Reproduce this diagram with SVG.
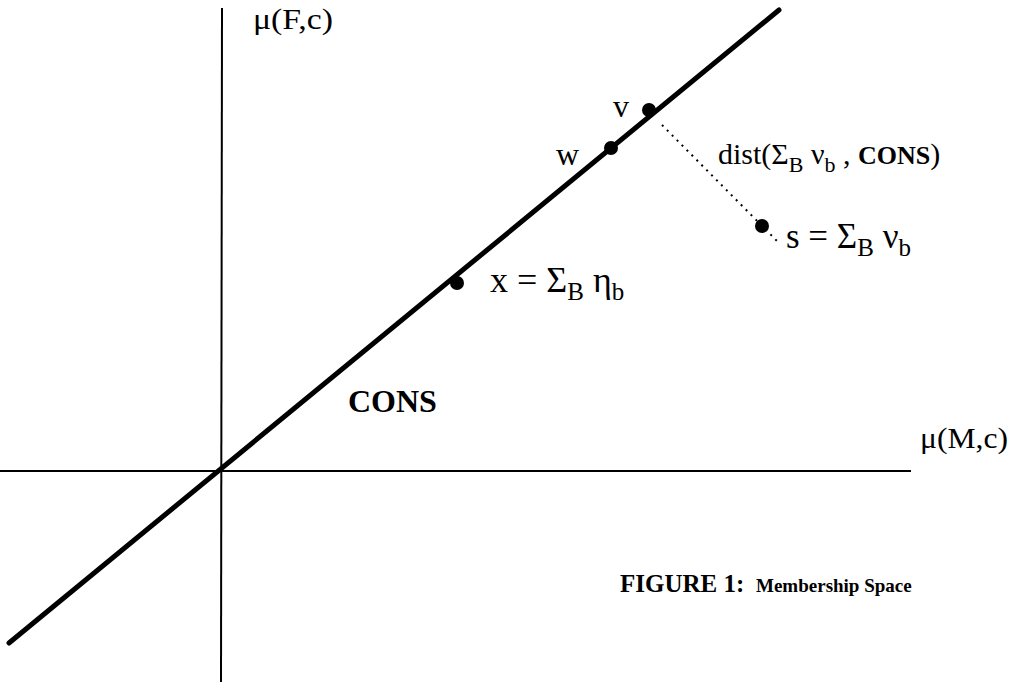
<svg xmlns="http://www.w3.org/2000/svg" width="1015" height="683" viewBox="0 0 1015 683">
<style>
.t{font-family:"Liberation Serif","Times New Roman",serif;fill:#000}
.b{font-weight:bold}
.dot{fill:#000}
</style>
<rect width="1015" height="683" fill="#fff"/>
<g id="connectors">
<line id="axis-y" x1="222" y1="8" x2="221" y2="682" stroke="#000" stroke-width="2"/>
<line id="axis-x" x1="0" y1="471" x2="911" y2="471" stroke="#000" stroke-width="2"/>
<line id="cons-line" x1="9" y1="643" x2="779" y2="10" stroke="#000" stroke-width="5" stroke-linecap="round"/>
<line id="dist-line" x1="662" y1="125" x2="778" y2="242" stroke="#000" stroke-width="2" stroke-dasharray="2,5"/>
</g>
<g id="label-muF"><text class="t" x="253" y="29" font-size="30" textLength="80" lengthAdjust="spacingAndGlyphs">μ(F,c)</text></g>
<g id="label-muM"><text class="t" x="920" y="448" font-size="30" textLength="88" lengthAdjust="spacingAndGlyphs">μ(M,c)</text></g>
<g id="point-v"><circle class="dot" cx="649" cy="110" r="7"/><text class="t" x="613" y="117" font-size="32">v</text></g>
<g id="point-w"><circle class="dot" cx="611" cy="148" r="7"/><text class="t" x="556" y="165" font-size="32">w</text></g>
<g id="point-x"><circle class="dot" cx="457" cy="283" r="7"/><text class="t" x="490" y="292" font-size="36">x = Σ<tspan font-size="25" dy="8">B</tspan><tspan dy="-8"> η</tspan><tspan font-size="25" dy="8">b</tspan></text></g>
<g id="point-s"><circle class="dot" cx="762" cy="226" r="7"/><text class="t" x="786" y="248" font-size="35">s = Σ<tspan font-size="25" dy="8">B</tspan><tspan dy="-8"> ν</tspan><tspan font-size="25" dy="8">b</tspan></text></g>
<g id="label-dist"><text class="t" x="718" y="164" font-size="30">dist(Σ<tspan font-size="22" dy="8">B</tspan><tspan dy="-8"> ν</tspan><tspan font-size="22" dy="8">b</tspan><tspan dy="-8"> , </tspan><tspan class="b" font-size="26">CONS</tspan>)</text></g>
<g id="label-cons"><text class="t b" x="348" y="412" font-size="32">CONS</text></g>
<g id="caption"><text class="t b" x="620" y="592" font-size="25">FIGURE 1:</text><text class="t b" x="756" y="592" font-size="19">Membership Space</text></g>
</svg>
